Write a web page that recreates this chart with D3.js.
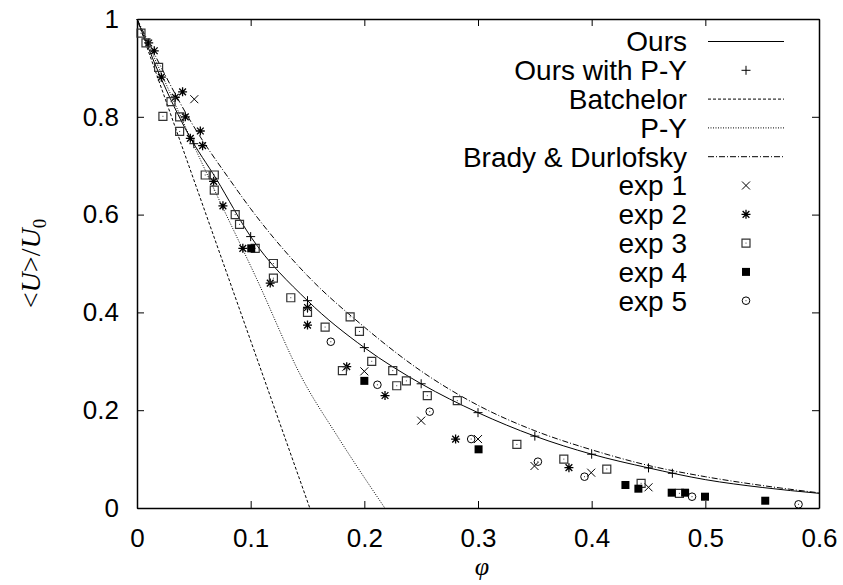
<!DOCTYPE html>
<html>
<head>
<meta charset="utf-8">
<script src="https://cdn.jsdelivr.net/npm/d3@7"></script>
<style>
  body { margin: 0; background: #fff; }
  text { font-family: "Liberation Sans", Arial, Helvetica, sans-serif; fill: #000; }
</style>
</head>
<body>
<div id="chart"></div>
<script>
// tick values
const xTicks = [0, 0.1, 0.2, 0.3, 0.4, 0.5, 0.6];
const yTicks = [0, 0.2, 0.4, 0.6, 0.8, 1];

// model curves, [phi, U/U0]
const ours = [[0, 1], [0.02, 0.885], [0.045, 0.765], [0.07, 0.672], [0.1, 0.555], [0.15, 0.424],
  [0.2, 0.328], [0.25, 0.254], [0.3, 0.195], [0.35, 0.147], [0.4, 0.11], [0.45, 0.082],
  [0.5, 0.058], [0.55, 0.042], [0.6, 0.03]];
const oursPY = [[0.05, 0.745], [0.1, 0.555], [0.15, 0.424], [0.2, 0.328], [0.25, 0.254],
  [0.3, 0.195], [0.35, 0.147], [0.4, 0.11], [0.45, 0.082], [0.471, 0.071]];
const batchelor = [[0, 1], [0.152, 0]];
const py = [[0, 1], [0.064, 0.671], [0.105, 0.47], [0.146, 0.262], [0.176, 0.148], [0.218, 0]];
const brady = [[0, 1], [0.05, 0.78], [0.0817, 0.671], [0.1, 0.612], [0.15, 0.475], [0.2, 0.37],
  [0.25, 0.28], [0.3, 0.21], [0.35, 0.158], [0.4, 0.119], [0.45, 0.087], [0.5, 0.064],
  [0.55, 0.046], [0.6, 0.031]];

// experiments
const exp1 = [[0.0504, 0.836], [0.2, 0.2795], [0.25, 0.1786], [0.3, 0.141], [0.3497, 0.0859],
  [0.3996, 0.0722], [0.45, 0.0423]];
const exp2 = [[0.0103, 0.951], [0.0152, 0.935], [0.0214, 0.881], [0.0337, 0.84], [0.0401, 0.851],
  [0.0425, 0.8], [0.0469, 0.756], [0.0557, 0.771], [0.0577, 0.741], [0.0674, 0.668],
  [0.0756, 0.618], [0.0931, 0.531], [0.1172, 0.46], [0.15, 0.41], [0.15, 0.374],
  [0.1845, 0.289], [0.2182, 0.23], [0.2803, 0.141], [0.38, 0.0825]];
const exp3 = [[0.0035, 0.971], [0.0079, 0.951], [0.019, 0.901], [0.0299, 0.831], [0.0228, 0.801],
  [0.0375, 0.8], [0.0375, 0.77], [0.06, 0.681], [0.068, 0.681], [0.068, 0.65], [0.0864, 0.6],
  [0.0902, 0.58], [0.104, 0.531], [0.12, 0.5], [0.12, 0.47], [0.1353, 0.43], [0.15, 0.4],
  [0.1655, 0.37], [0.1875, 0.391], [0.1957, 0.361], [0.1807, 0.281], [0.2065, 0.3],
  [0.225, 0.281], [0.2285, 0.25], [0.237, 0.26], [0.2554, 0.2297], [0.2818, 0.2195],
  [0.3342, 0.13], [0.3755, 0.1], [0.4133, 0.0797], [0.4435, 0.0505], [0.4772, 0.03]];
const exp4 = [[0.1005, 0.531], [0.2, 0.26], [0.3005, 0.12], [0.4297, 0.047], [0.4411, 0.0395],
  [0.4704, 0.0313], [0.4822, 0.0313], [0.4997, 0.0231], [0.5527, 0.0149]];
const exp5 = [[0.1705, 0.34], [0.2115, 0.252], [0.2575, 0.197], [0.294, 0.141], [0.3527, 0.0947],
  [0.3937, 0.064], [0.4883, 0.0231], [0.582, 0.0075]];

const legendNames = ["Ours", "Ours with P-Y", "Batchelor", "P-Y", "Brady & Durlofsky",
  "exp 1", "exp 2", "exp 3", "exp 4", "exp 5"];

function drawChart() {
  const width = 843, height = 585;
  const margin = { top: 19, right: 24, bottom: 77, left: 137 };

  const svg = d3.select("#chart").append("svg")
    .attr("width", width)
    .attr("height", height);

  const x = d3.scaleLinear().domain([0, 0.6]).range([margin.left, width - margin.right]);
  const y = d3.scaleLinear().domain([0, 1]).range([height - margin.bottom, margin.top]);

  // axes, ticks point inward like gnuplot
  const fmt = d => d === 0 ? "0" : d3.format("")(d);
  const gx = svg.append("g")
    .attr("transform", `translate(0,${y(0)})`)
    .call(d3.axisBottom(x).tickValues(xTicks).tickFormat(fmt).tickSizeInner(-7).tickSizeOuter(0).tickPadding(21));
  const gy = svg.append("g")
    .attr("transform", `translate(${x(0)},0)`)
    .call(d3.axisLeft(y).tickValues(yTicks).tickFormat(fmt).tickSizeInner(-7).tickSizeOuter(0).tickPadding(18));
  svg.append("g")
    .attr("transform", `translate(0,${y(1)})`)
    .call(d3.axisTop(x).tickValues(xTicks).tickFormat("").tickSizeInner(-7).tickSizeOuter(0));
  svg.append("g")
    .attr("transform", `translate(${x(0.6)},0)`)
    .call(d3.axisRight(y).tickValues(yTicks).tickFormat("").tickSizeInner(-7).tickSizeOuter(0));

  svg.selectAll(".domain").attr("stroke", "#000").attr("stroke-width", 1.5);
  svg.selectAll(".tick line").attr("stroke", "#000").attr("stroke-width", 1);
  gx.selectAll("text").attr("font-size", 26).attr("font-family", "Liberation Sans, Arial, sans-serif");
  gy.selectAll("text").attr("font-size", 26).attr("font-family", "Liberation Sans, Arial, sans-serif");

  // axis titles
  svg.append("text")
    .attr("x", (x(0) + x(0.6)) / 2 + 4)
    .attr("y", 575)
    .attr("text-anchor", "middle")
    .style("font-family", "'Liberation Serif', 'DejaVu Serif', serif")
    .style("font-style", "italic")
    .attr("font-size", 26)
    .text("φ");

  const yt = svg.append("text")
    .attr("transform", `translate(40,${(y(0) + y(1)) / 2}) rotate(-90)`)
    .attr("text-anchor", "middle")
    .style("font-family", "'Liberation Serif', 'DejaVu Serif', serif")
    .attr("font-size", 28);
  yt.append("tspan").text("<");
  yt.append("tspan").style("font-style", "italic").text("U");
  yt.append("tspan").text(">/");
  yt.append("tspan").style("font-style", "italic").text("U");
  yt.append("tspan").attr("font-size", 19).attr("dy", 6).text("0");

  // curves
  const line = d3.line().x(d => x(d[0])).y(d => y(d[1])).curve(d3.curveMonotoneX);
  const curves = [
    { data: ours, dash: null },
    { data: batchelor, dash: "3,2" },
    { data: py, dash: "1,1.5" },
    { data: brady, dash: "6,2,1,2" }
  ];
  const plot = svg.append("g");
  plot.selectAll(".curve")
    .data(curves)
    .enter()
    .append("path")
    .attr("class", "curve")
    .attr("d", d => line(d.data))
    .attr("fill", "none")
    .attr("stroke", "#000")
    .attr("stroke-width", 1)
    .attr("stroke-dasharray", d => d.dash);

  // marker shapes (gnuplot point types)
  const marker = {
    plus: s => `M${-s},0H${s}M0,${-s}V${s}`,
    cross: s => `M${-s},${-s}L${s},${s}M${-s},${s}L${s},${-s}`,
    star: s => `M${-s},0H${s}M0,${-s}V${s}M${-s * 0.75},${-s * 0.75}L${s * 0.75},${s * 0.75}M${-s * 0.75},${s * 0.75}L${s * 0.75},${-s * 0.75}`,
    box: s => `M${-s},${-s}H${s}V${s}H${-s}Z`,
    circle: s => `M${-s},0A${s},${s} 0 1,0 ${s},0A${s},${s} 0 1,0 ${-s},0`
  };

  function drawPoints(g, data, type) {
    const sel = g.selectAll(null).data(data).enter().append("g")
      .attr("transform", d => `translate(${x(d[0])},${y(d[1])})`);
    if (type === "plus") {
      sel.append("path").attr("d", marker.plus(4.5)).attr("stroke", "#000").attr("fill", "none");
    } else if (type === "cross") {
      sel.append("path").attr("d", marker.cross(4)).attr("stroke", "#000").attr("fill", "none");
    } else if (type === "star") {
      sel.append("path").attr("d", marker.star(4.5)).attr("stroke", "#000").attr("stroke-width", 1.3).attr("fill", "none");
    } else if (type === "boxdot") {
      sel.append("path").attr("d", marker.box(4)).attr("stroke", "#333").attr("stroke-width", 1.2).attr("fill", "none");
      sel.append("rect").attr("x", -0.5).attr("y", -0.5).attr("width", 1).attr("height", 1).attr("fill", "#444");
    } else if (type === "fillbox") {
      sel.append("path").attr("d", marker.box(4)).attr("fill", "#000");
    } else if (type === "circledot") {
      sel.append("path").attr("d", marker.circle(3.8)).attr("stroke", "#000").attr("fill", "none");
      sel.append("rect").attr("x", -0.5).attr("y", -0.5).attr("width", 1).attr("height", 1).attr("fill", "#333");
    }
    return sel;
  }

  drawPoints(plot, oursPY, "plus");
  drawPoints(plot, exp1, "cross");
  drawPoints(plot, exp2, "star");
  drawPoints(plot, exp3, "boxdot");
  drawPoints(plot, exp4, "fillbox");
  drawPoints(plot, exp5, "circledot");

  // legend
  const legendTypes = ["solid", "plus", "3,2", "1,1.5", "6,2,1,2", "cross", "star", "boxdot", "fillbox", "circledot"];
  const lx = 687, ly0 = 41.5, lstep = 28.8;
  const legend = svg.append("g");
  legendNames.forEach((name, i) => {
    const ly = ly0 + i * lstep;
    legend.append("text")
      .attr("x", lx)
      .attr("y", ly)
      .attr("dy", "0.35em")
      .attr("text-anchor", "end")
      .attr("font-size", 28)
      .text(name);
    const t = legendTypes[i];
    if (t === "solid" || t.includes(",")) {
      legend.append("line")
        .attr("x1", 708).attr("x2", 784)
        .attr("y1", ly).attr("y2", ly)
        .attr("stroke", "#000")
        .attr("stroke-width", 1)
        .attr("stroke-dasharray", t === "solid" ? null : t);
    } else {
      const g = legend.append("g").attr("transform", `translate(${746 - x(0)},${ly - y(0)})`);
      drawPoints(g, [[0, 0]], t);
    }
  });
}

drawChart();
</script>
</body>
</html>
